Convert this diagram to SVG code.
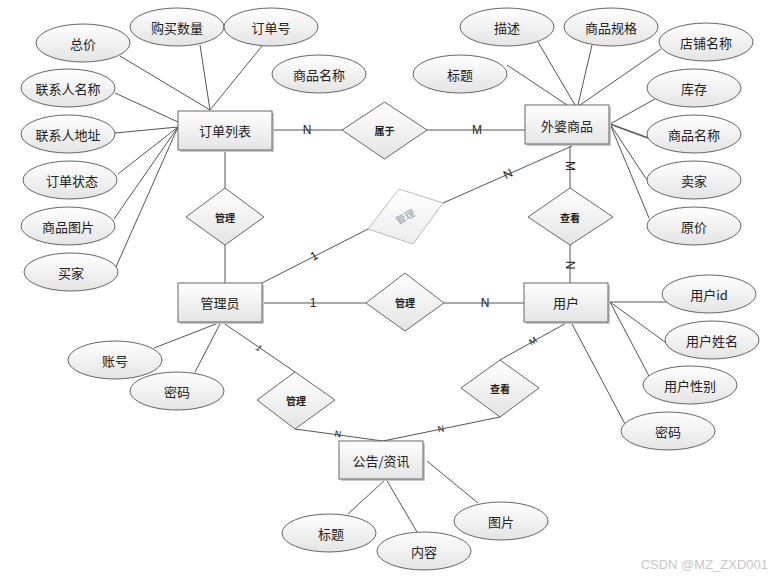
<svg xmlns="http://www.w3.org/2000/svg" width="776" height="578" viewBox="0 0 776 578">
<defs>
<linearGradient id="g" x1="0" y1="0" x2="0" y2="1"><stop offset="0" stop-color="#ffffff"/><stop offset="1" stop-color="#e4e4e4"/></linearGradient>
<linearGradient id="gf" x1="0" y1="0" x2="0" y2="1"><stop offset="0" stop-color="#ffffff"/><stop offset="1" stop-color="#ececec"/></linearGradient>
<style>
.e{fill:url(#g);stroke:#666;stroke-width:1}
.r{fill:url(#g);stroke:#666;stroke-width:1}
.sh{fill:#c8c8c8}
.d{fill:url(#g);stroke:#666;stroke-width:1}
.df{fill:url(#gf);stroke:#bbb;stroke-width:1}
.t{font-family:"Noto Sans CJK SC","Liberation Sans",sans-serif;font-size:13px;fill:#222;text-anchor:middle;dominant-baseline:central}
.ts{font-family:"Noto Sans CJK SC","Liberation Sans",sans-serif;font-size:10px;font-weight:bold;fill:#222;text-anchor:middle;dominant-baseline:central}
.tf{font-family:"Noto Sans CJK SC","Liberation Sans",sans-serif;font-size:10px;fill:#999;text-anchor:middle;dominant-baseline:central}
.l{font-family:"Liberation Sans",sans-serif;font-size:12px;fill:#222;text-anchor:middle;dominant-baseline:central}
.lsm{font-family:"Liberation Sans",sans-serif;font-size:9px;fill:#222;text-anchor:middle;dominant-baseline:central}
.c line{stroke:#555;stroke-width:1}
.wm{font-family:"Liberation Sans",sans-serif;font-size:13px;fill:#c8c8c8;text-anchor:end}
</style>
</defs>
<rect width="776" height="578" fill="#fff"/>
<g class="c" id="connectors">
<line x1="120" y1="56" x2="210" y2="110"/>
<line x1="200" y1="45" x2="210" y2="110"/>
<line x1="262" y1="46" x2="210" y2="110"/>
<line x1="115" y1="93" x2="178" y2="122"/>
<line x1="115" y1="133" x2="178" y2="127"/>
<line x1="118" y1="174" x2="178" y2="127"/>
<line x1="114" y1="219" x2="178" y2="127"/>
<line x1="116" y1="267" x2="178" y2="127"/>
<line x1="272" y1="130" x2="342" y2="130"/>
<line x1="427" y1="130" x2="525" y2="130"/>
<line x1="225" y1="150" x2="225" y2="188"/>
<line x1="225" y1="245" x2="225" y2="283"/>
<line x1="507" y1="65" x2="567" y2="105"/>
<line x1="538" y1="42" x2="575" y2="105"/>
<line x1="592" y1="45" x2="578" y2="105"/>
<line x1="661" y1="49" x2="580" y2="105"/>
<line x1="655" y1="99" x2="610" y2="124"/>
<line x1="648" y1="138" x2="610" y2="124" style="stroke-width:1.5"/>
<line x1="647" y1="180" x2="610" y2="124"/>
<line x1="649" y1="218" x2="610" y2="124"/>
<line x1="570" y1="144" x2="570" y2="188"/>
<line x1="570" y1="245" x2="570" y2="283"/>
<line x1="443" y1="203" x2="572" y2="146"/>
<line x1="368" y1="229" x2="262" y2="283"/>
<line x1="262" y1="303" x2="366" y2="303"/>
<line x1="444" y1="303" x2="524" y2="303"/>
<line x1="154" y1="348" x2="221" y2="322"/>
<line x1="195" y1="372" x2="221" y2="322"/>
<line x1="222" y1="322" x2="295" y2="372"/>
<line x1="295" y1="429" x2="383" y2="441"/>
<line x1="500" y1="417" x2="383" y2="441"/>
<line x1="500" y1="360" x2="568" y2="322"/>
<line x1="667" y1="302" x2="609" y2="302"/>
<line x1="665" y1="342" x2="610" y2="302"/>
<line x1="649" y1="376" x2="610" y2="302"/>
<line x1="625" y1="424" x2="571" y2="322"/>
<line x1="348" y1="514" x2="386" y2="479"/>
<line x1="417" y1="532" x2="386" y2="479"/>
<line x1="478" y1="503" x2="427" y2="461"/>
</g>
<g id="labels">
<text class="l" x="307" y="130">N</text>
<text class="l" x="477" y="130">M</text>
<text class="l" x="570" y="166" transform="rotate(90 570 166)">M</text>
<text class="l" x="570" y="265" transform="rotate(90 570 265)">N</text>
<text class="l" x="508" y="174" transform="rotate(-28 508 174)">N</text>
<text class="l" x="314" y="256" transform="rotate(-28 314 256)">1</text>
<text class="l" x="313" y="303">1</text>
<text class="l" x="485" y="303">N</text>
<text class="lsm" x="259" y="348" transform="rotate(35 259 348)" font-style="italic">1</text>
<text class="lsm" x="338" y="434" transform="rotate(8 338 434)">N</text>
<text class="lsm" x="441" y="429" transform="rotate(-10 441 429)">N</text>
<text class="lsm" x="533" y="341" transform="rotate(-30 533 341)">M</text>
</g>
<g id="n-dingdan"><rect class="sh" x="180" y="113" width="94" height="39"/><rect class="r" x="178" y="111" width="94" height="39"/><text class="t" x="225" y="130">订单列表</text></g>
<g id="n-waipo"><rect class="sh" x="527" y="107" width="84" height="39"/><rect class="r" x="525" y="105" width="84" height="39"/><text class="t" x="567" y="125">外婆商品</text></g>
<g id="n-admin"><rect class="sh" x="180" y="285" width="84" height="39"/><rect class="r" x="178" y="283" width="84" height="39"/><text class="t" x="220" y="302">管理员</text></g>
<g id="n-user"><rect class="sh" x="526" y="285" width="84" height="39"/><rect class="r" x="524" y="283" width="84" height="39"/><text class="t" x="566" y="302">用户</text></g>
<g id="n-notice"><rect class="sh" x="341" y="443" width="84" height="38"/><rect class="r" x="339" y="441" width="84" height="38"/><text class="t" x="381" y="460">公告/资讯</text></g>
<g id="r-shuyu"><polygon class="d" points="342,130 384.5,102 427,130 384.5,159"/><text class="ts" x="384.5" y="130">属于</text></g>
<g id="r-guanli1"><polygon class="d" points="186,217 225,188 264,217 225,245"/><text class="ts" x="225" y="217">管理</text></g>
<g id="r-chakan1"><polygon class="d" points="528,217 570,188 613,217 570,245"/><text class="ts" x="570" y="217">查看</text></g>
<g id="r-guanli-faded"><polygon class="df" points="368,229 399,189 443,203 413,244"/><text class="tf" x="405" y="216" transform="rotate(-28 405 216)">管理</text></g>
<g id="r-guanli2"><polygon class="d" points="366,303 405,273 444,303 405,331"/><text class="ts" x="405" y="302">管理</text></g>
<g id="r-guanli3"><polygon class="d" points="257,400 295,372 335,400 295,429"/><text class="ts" x="296" y="400">管理</text></g>
<g id="r-chakan2"><polygon class="d" points="461,388 500,360 539,388 500,417"/><text class="ts" x="500" y="388">查看</text></g>
<g id="a-zongjia"><ellipse class="e" cx="83" cy="43" rx="47" ry="19"/><text class="t" x="83" y="43">总价</text></g>
<g id="a-goumai"><ellipse class="e" cx="177" cy="27" rx="47" ry="19"/><text class="t" x="177" y="27">购买数量</text></g>
<g id="a-dingdanhao"><ellipse class="e" cx="271" cy="27" rx="47" ry="19"/><text class="t" x="271" y="27">订单号</text></g>
<g id="a-spmc-float"><ellipse class="e" cx="319" cy="74" rx="47" ry="19"/><text class="t" x="319" y="74">商品名称</text></g>
<g id="a-lxrmc"><ellipse class="e" cx="68" cy="88" rx="47" ry="19"/><text class="t" x="68" y="88">联系人名称</text></g>
<g id="a-lxrdz"><ellipse class="e" cx="68" cy="134" rx="47" ry="19"/><text class="t" x="68" y="134">联系人地址</text></g>
<g id="a-ddzt"><ellipse class="e" cx="70" cy="180" rx="47" ry="19"/><text class="t" x="72" y="180">订单状态</text></g>
<g id="a-sptp"><ellipse class="e" cx="68" cy="226" rx="47" ry="19"/><text class="t" x="68" y="226">商品图片</text></g>
<g id="a-maijia"><ellipse class="e" cx="71" cy="272" rx="47" ry="19"/><text class="t" x="71" y="272">买家</text></g>
<g id="a-biaoti1"><ellipse class="e" cx="460" cy="74" rx="47" ry="19"/><text class="t" x="460" y="74">标题</text></g>
<g id="a-miaoshu"><ellipse class="e" cx="507" cy="27" rx="47" ry="19"/><text class="t" x="507" y="27">描述</text></g>
<g id="a-spgg"><ellipse class="e" cx="611" cy="27" rx="47" ry="19"/><text class="t" x="611" y="27">商品规格</text></g>
<g id="a-dpmc"><ellipse class="e" cx="706" cy="42" rx="47" ry="19"/><text class="t" x="706" y="42">店铺名称</text></g>
<g id="a-kucun"><ellipse class="e" cx="694" cy="88" rx="47" ry="19"/><text class="t" x="694" y="88">库存</text></g>
<g id="a-spmc"><ellipse class="e" cx="694" cy="134" rx="47" ry="19"/><text class="t" x="694" y="134">商品名称</text></g>
<g id="a-maijia2"><ellipse class="e" cx="694" cy="180" rx="47" ry="19"/><text class="t" x="694" y="180">卖家</text></g>
<g id="a-yuanjia"><ellipse class="e" cx="694" cy="226" rx="47" ry="19"/><text class="t" x="694" y="226">原价</text></g>
<g id="a-zhanghao"><ellipse class="e" cx="115" cy="360" rx="47" ry="19"/><text class="t" x="115" y="360">账号</text></g>
<g id="a-mima1"><ellipse class="e" cx="177" cy="391" rx="47" ry="19"/><text class="t" x="177" y="391">密码</text></g>
<g id="a-yhid"><ellipse class="e" cx="709" cy="294" rx="47" ry="19"/><text class="t" x="709" y="294">用户id</text></g>
<g id="a-yhxm"><ellipse class="e" cx="712" cy="340" rx="47" ry="19"/><text class="t" x="712" y="340">用户姓名</text></g>
<g id="a-yhxb"><ellipse class="e" cx="690" cy="385" rx="47" ry="19"/><text class="t" x="690" y="385">用户性别</text></g>
<g id="a-mima2"><ellipse class="e" cx="668" cy="431" rx="47" ry="19"/><text class="t" x="668" y="431">密码</text></g>
<g id="a-biaoti2"><ellipse class="e" cx="329" cy="533" rx="47" ry="19"/><text class="t" x="331" y="533">标题</text></g>
<g id="a-neirong"><ellipse class="e" cx="424" cy="551" rx="47" ry="19"/><text class="t" x="424" y="551">内容</text></g>
<g id="a-tupian"><ellipse class="e" cx="501" cy="521" rx="47" ry="19"/><text class="t" x="501" y="521">图片</text></g>
<text class="wm" x="768" y="569">CSDN @MZ_ZXD001</text>
</svg>
